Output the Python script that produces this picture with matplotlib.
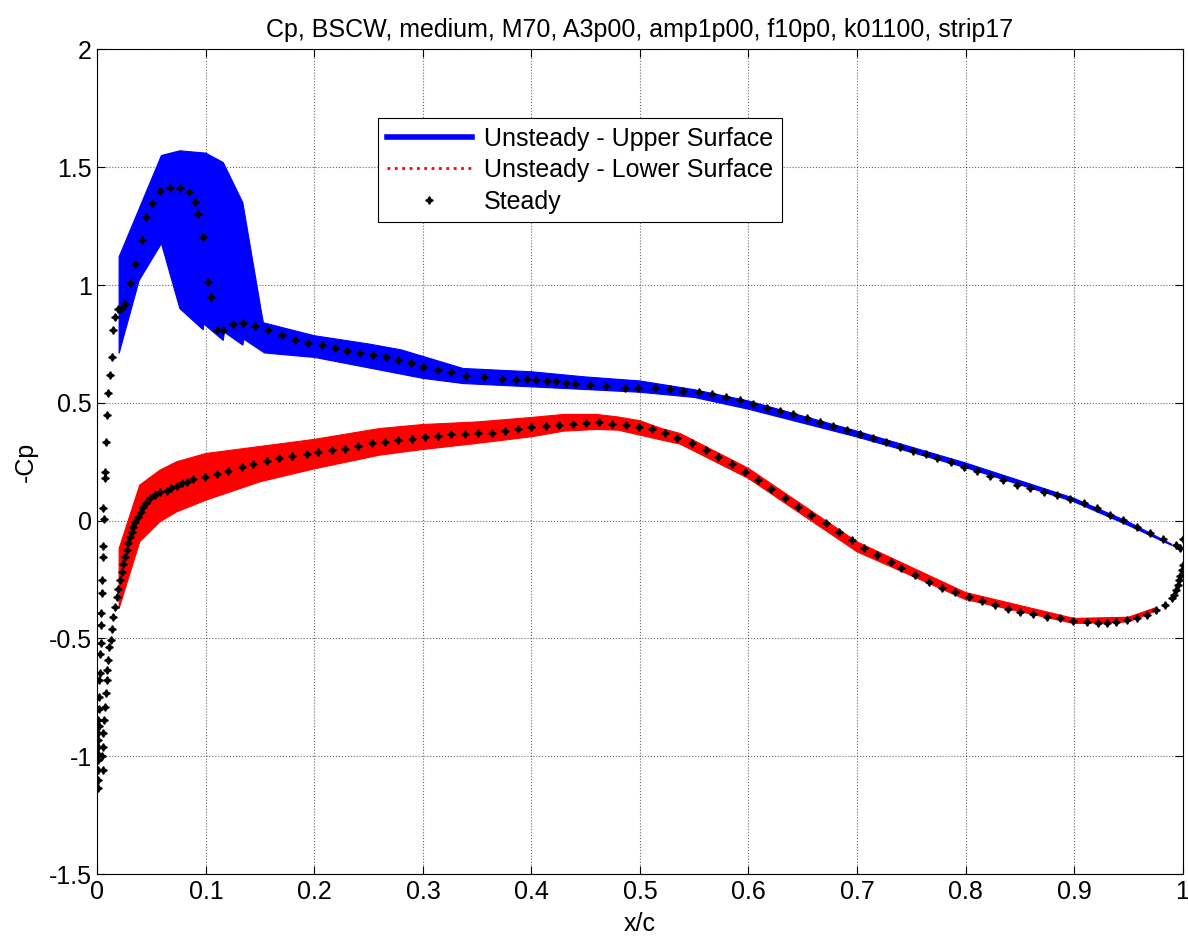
import numpy as np
import matplotlib
matplotlib.use("Agg")
from matplotlib import pyplot as plt
from matplotlib.lines import Line2D

plt.rcParams['font.family'] = ['Liberation Sans', 'DejaVu Sans']

title = "Cp, BSCW, medium, M70, A3p00, amp1p00, f10p0, k01100, strip17"

# envelope of the unsteady upper surface lines (all time steps)
upper_top_x = [0.020, 0.059, 0.076, 0.100, 0.116, 0.134, 0.151, 0.153, 0.170, 0.200, 0.250,
               0.280, 0.337, 0.400, 0.450, 0.500, 0.550, 0.600, 0.700, 0.800, 0.900, 0.950, 0.990]
upper_top_y = [1.12, 1.55, 1.57, 1.56, 1.52, 1.35, 0.89, 0.84, 0.82, 0.785, 0.75,
               0.725, 0.646, 0.632, 0.61, 0.593, 0.556, 0.508, 0.38, 0.245, 0.095, -0.005, -0.10]
upper_bot_x = [0.020, 0.0385, 0.059, 0.076, 0.0975, 0.098, 0.116, 0.117, 0.134, 0.135, 0.154,
               0.170, 0.200, 0.300, 0.337, 0.400, 0.500, 0.550, 0.600, 0.700, 0.800, 0.900, 0.950, 0.990]
upper_bot_y = [0.71, 1.02, 1.176, 0.90, 0.81, 0.835, 0.765, 0.80, 0.745, 0.77, 0.712,
               0.705, 0.693, 0.604, 0.582, 0.568, 0.545, 0.523, 0.473, 0.355, 0.225, 0.08, -0.02, -0.105]

# envelope of the unsteady lower surface lines
lower_x = [0.020, 0.039, 0.0576, 0.073, 0.100, 0.150, 0.200, 0.260, 0.300, 0.350, 0.400, 0.430,
           0.460, 0.480, 0.500, 0.520, 0.537, 0.600, 0.700, 0.800, 0.900, 0.950, 0.975]
lower_top_y = [-0.118, 0.151, 0.214, 0.25, 0.285, 0.315, 0.345, 0.391, 0.408, 0.419, 0.438, 0.451,
               0.451, 0.44, 0.424, 0.391, 0.37, 0.222, -0.09, -0.305, -0.415, -0.41, -0.37]
lower_bot_y = [-0.373, -0.09, -0.005, 0.037, 0.087, 0.165, 0.22, 0.278, 0.302, 0.328, 0.356, 0.38,
               0.387, 0.384, 0.363, 0.342, 0.325, 0.179, -0.132, -0.335, -0.437, -0.43, -0.385]

# steady solution, upper surface (x/c, -Cp), stagnation -> trailing edge
steady_upper = [
    (0.0005, -1.137), (0.0008, -1.100), (0.0005, -1.060), (0.0008, -1.017), (0.0005, -0.990),
    (0.0008, -0.960), (0.0005, -0.930), (0.0008, -0.900), (0.0010, -0.870), (0.0008, -0.847),
    (0.0012, -0.800), (0.0017, -0.748), (0.0017, -0.677), (0.0020, -0.646), (0.0023, -0.564),
    (0.0030, -0.520), (0.0035, -0.443), (0.0035, -0.394), (0.0041, -0.309), (0.0041, -0.253),
    (0.0048, -0.154), (0.0048, -0.108), (0.0060, 0.009), (0.0054, 0.052), (0.0069, 0.179),
    (0.0069, 0.207), (0.0078, 0.334), (0.0090, 0.448), (0.0100, 0.540), (0.0115, 0.618),
    (0.0130, 0.695), (0.0146, 0.810), (0.0160, 0.865), (0.0190, 0.900), (0.0220, 0.900),
    (0.0250, 0.920), (0.0300, 1.007), (0.0350, 1.090), (0.0410, 1.190), (0.0450, 1.290),
    (0.0500, 1.350), (0.0580, 1.400), (0.0670, 1.414), (0.0760, 1.410), (0.0840, 1.395),
    (0.0900, 1.353), (0.0930, 1.300), (0.0975, 1.205), (0.1020, 1.014), (0.1050, 0.950),
    (0.1100, 0.810), (0.1160, 0.810), (0.1250, 0.833), (0.1340, 0.837), (0.1450, 0.826),
    (0.1570, 0.810), (0.1700, 0.787), (0.1820, 0.766), (0.1940, 0.752), (0.2070, 0.745),
    (0.2190, 0.731), (0.2300, 0.721), (0.2420, 0.712), (0.2540, 0.702), (0.2660, 0.695),
    (0.2770, 0.681), (0.2890, 0.670), (0.3000, 0.653), (0.3140, 0.639), (0.3260, 0.629),
    (0.3400, 0.616), (0.3560, 0.610), (0.3730, 0.603), (0.3860, 0.599), (0.3960, 0.600),
    (0.4040, 0.595), (0.4140, 0.591), (0.4230, 0.591), (0.4320, 0.585), (0.4400, 0.581),
    (0.4540, 0.575), (0.4690, 0.571), (0.4860, 0.565), (0.4980, 0.565), (0.5140, 0.561),
    (0.5280, 0.557), (0.5400, 0.550), (0.5540, 0.544), (0.5660, 0.536), (0.5790, 0.523),
    (0.5920, 0.511), (0.6040, 0.497), (0.6170, 0.480), (0.6290, 0.465), (0.6410, 0.451),
    (0.6540, 0.434), (0.6660, 0.417), (0.6780, 0.402), (0.6910, 0.384), (0.7030, 0.366),
    (0.7150, 0.349), (0.7270, 0.332), (0.7400, 0.313), (0.7520, 0.296), (0.7640, 0.282),
    (0.7740, 0.267), (0.7870, 0.247), (0.7990, 0.229), (0.8110, 0.210), (0.8230, 0.191),
    (0.8350, 0.172), (0.8470, 0.151), (0.8590, 0.137), (0.8720, 0.122), (0.8840, 0.108),
    (0.8960, 0.090), (0.9090, 0.073), (0.9210, 0.052), (0.9330, 0.026), (0.9450, 0.002),
    (0.9580, -0.026), (0.9700, -0.052), (0.9820, -0.080), (0.9940, -0.104), (0.9980, -0.118),
    (1.0000, -0.076),
]

# steady solution, lower surface
steady_lower = [
    (0.0048, -1.060), (0.0039, -1.000), (0.0048, -0.960), (0.0054, -0.903), (0.0060, -0.847),
    (0.0069, -0.790), (0.0078, -0.733), (0.0085, -0.677), (0.0090, -0.635), (0.0100, -0.592),
    (0.0110, -0.536), (0.0121, -0.507), (0.0131, -0.458), (0.0146, -0.408), (0.0161, -0.366),
    (0.0177, -0.323), (0.0192, -0.290), (0.0207, -0.253), (0.0222, -0.218), (0.0238, -0.182),
    (0.0253, -0.153), (0.0269, -0.125), (0.0285, -0.097), (0.0300, -0.069), (0.0315, -0.047),
    (0.0330, -0.026), (0.0350, -0.005), (0.0376, 0.016), (0.0400, 0.038), (0.0422, 0.059),
    (0.0450, 0.077), (0.0480, 0.094), (0.0530, 0.108), (0.0576, 0.122), (0.0640, 0.127),
    (0.0680, 0.137), (0.0730, 0.148), (0.0776, 0.158), (0.0830, 0.166), (0.0883, 0.175),
    (0.0990, 0.186), (0.1100, 0.200), (0.1200, 0.210), (0.1330, 0.226), (0.1436, 0.240),
    (0.1560, 0.254), (0.1670, 0.264), (0.1790, 0.275), (0.1930, 0.283), (0.2035, 0.291),
    (0.2160, 0.299), (0.2280, 0.306), (0.2400, 0.317), (0.2530, 0.328), (0.2650, 0.333),
    (0.2770, 0.342), (0.2900, 0.346), (0.3020, 0.356), (0.3140, 0.360), (0.3260, 0.366),
    (0.3390, 0.366), (0.3510, 0.370), (0.3640, 0.374), (0.3760, 0.381), (0.3880, 0.388),
    (0.4000, 0.396), (0.4130, 0.402), (0.4250, 0.408), (0.4380, 0.412), (0.4500, 0.415),
    (0.4620, 0.418), (0.4740, 0.412), (0.4870, 0.408), (0.4990, 0.398), (0.5110, 0.387),
    (0.5230, 0.370), (0.5340, 0.349), (0.5480, 0.328), (0.5610, 0.299), (0.5720, 0.271),
    (0.5850, 0.240), (0.5970, 0.205), (0.6090, 0.172), (0.6210, 0.134), (0.6340, 0.098),
    (0.6460, 0.059), (0.6580, 0.023), (0.6710, -0.012), (0.6830, -0.048), (0.6950, -0.083),
    (0.7060, -0.118), (0.7180, -0.146), (0.7310, -0.175), (0.7410, -0.199), (0.7530, -0.231),
    (0.7660, -0.260), (0.7780, -0.284), (0.7900, -0.305), (0.8030, -0.323), (0.8150, -0.340),
    (0.8270, -0.359), (0.8390, -0.373), (0.8500, -0.387), (0.8620, -0.398), (0.8750, -0.408),
    (0.8870, -0.415), (0.8990, -0.425), (0.9120, -0.430), (0.9220, -0.434), (0.9300, -0.434),
    (0.9390, -0.430), (0.9490, -0.422), (0.9580, -0.415), (0.9670, -0.401), (0.9760, -0.380),
    (0.9840, -0.359), (0.9900, -0.330), (0.9920, -0.315), (0.9940, -0.295), (0.9960, -0.275),
    (0.9970, -0.253), (0.9980, -0.235), (0.9995, -0.210), (1.0000, -0.190),
]

up = np.array(steady_upper)
lo = np.array(steady_lower)

fig = plt.figure(figsize=(11.88, 9.41), dpi=100)
ax = fig.add_axes([0.082, 0.0712, 0.9134, 0.8762])

# unsteady bands = area covered by all the time-step lines
ax.fill(np.r_[upper_top_x, upper_bot_x[::-1]], np.r_[upper_top_y, upper_bot_y[::-1]],
        color=(0, 0, 1), lw=0.8, ec=(0, 0, 1), zorder=2)
ax.fill(np.r_[lower_x, lower_x[::-1]], np.r_[lower_top_y, lower_bot_y[::-1]],
        color=(1, 0, 0), lw=0.8, ec=(1, 0, 0), zorder=2)

# steady points
ax.plot(up[:, 0], up[:, 1], ls='none', marker=(4, 1, 0), ms=5.5, color='k', zorder=3)
ax.plot(lo[:, 0], lo[:, 1], ls='none', marker=(4, 1, 0), ms=5.5, color='k', zorder=3)

ax.set_xlim(0, 1)
ax.set_ylim(-1.5, 2)
ax.set_xticks(np.arange(0, 1.01, 0.1))
ax.set_xticklabels(['0', '0.1', '0.2', '0.3', '0.4', '0.5', '0.6', '0.7', '0.8', '0.9', '1'])
ax.set_yticks(np.arange(-1.5, 2.01, 0.5))
ax.set_yticklabels(['-1.5', '-1', '-0.5', '0', '0.5', '1', '1.5', '2'])
ax.tick_params(direction='in', top=True, right=True, labelsize=18, length=6, pad=4)
ax.grid(True, ls=':', color='k', lw=0.8, alpha=0.6)
ax.set_axisbelow(True)
for s in ax.spines.values():
    s.set_linewidth(0.8)

ax.set_title(title, fontsize=18, pad=9)
ax.set_xlabel('x/c', fontsize=18, labelpad=6)
ax.set_ylabel('-Cp', fontsize=18, labelpad=8)

handles = [Line2D([], [], color=(0, 0, 1), lw=4),
           Line2D([], [], color=(1, 0, 0), lw=2, ls=':'),
           Line2D([], [], ls='none', marker=(4, 1, 0), ms=5.5, color='k')]
labels = ['Unsteady - Upper Surface', 'Unsteady - Lower Surface', 'Steady']
leg = ax.legend(handles, labels, loc='upper left', bbox_to_anchor=(0.2585, 0.917),
                borderaxespad=0, fontsize=18, fancybox=False, framealpha=1, edgecolor='k',
                handlelength=3.4, handletextpad=0.5, borderpad=0.35, labelspacing=0.3)
leg.get_frame().set_linewidth(0.8)

fig.savefig('out.png', dpi=100)
